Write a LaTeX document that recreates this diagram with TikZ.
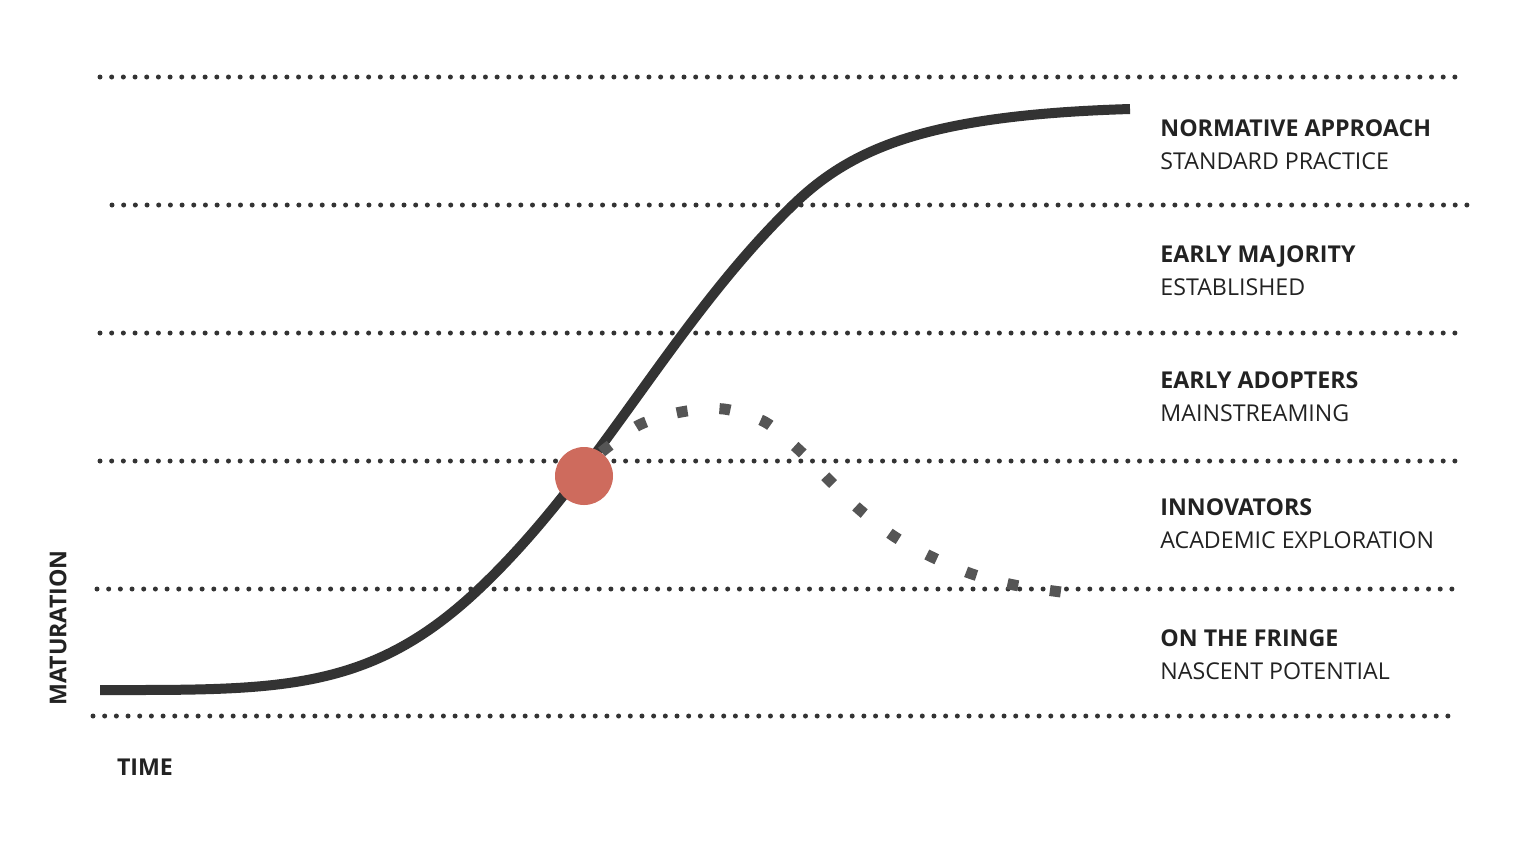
\documentclass[tikz,border=0pt]{standalone}
\usepackage{fontspec}
\setmainfont{Open Sans}
\definecolor{curvegray}{HTML}{333333}
\definecolor{markgray}{HTML}{555555}
\definecolor{dotred}{HTML}{CE6B5D}
\definecolor{textgray}{HTML}{222222}
\tikzset{
  levelline/.style={line width=2.5pt, line cap=round, dash pattern=on 0pt off 5.84pt, color=curvegray},
  bandtitle/.style={anchor=base west, inner sep=0pt, text=textgray, font=\fontsize{11.6}{14}\selectfont\bfseries},
  bandsub/.style={anchor=base west, inner sep=0pt, text=textgray, font=\fontsize{11.6}{14}\selectfont},
  axislabel/.style={inner sep=0pt, text=textgray, font=\fontsize{11.6}{14}\selectfont\bfseries},
}
\begin{document}
\begin{tikzpicture}[x=0.5pt, y=-0.5pt]
  \useasboundingbox (0,0) rectangle (1520,848);

  \draw[levelline] (100,77) -- (1457,77);
  \draw[levelline] (112,205) -- (1467,205);
  \draw[levelline] (100,333) -- (1457,333);
  \draw[levelline] (100,461) -- (1457,461);
  \draw[levelline] (97,589) -- (1454,589);
  \draw[levelline] (93,716) -- (1450,716);

  \draw[curvegray, line width=5pt] (100,690) .. controls (280,690) and (370,692.5) .. (480,588)
    .. controls (600,474) and (673,321.4) .. (793,205)
    .. controls (853,146.8) and (930,115) .. (1130,109);

  \draw[markgray, line width=5.5pt, dash pattern=on 5.5pt off 16pt] plot[smooth] coordinates {(601.5,452) (639,425) (681,412) (724,409) (765,422) (798,449) (829,480) (860,510) (895,537) (932,557) (972,574) (1014,585) (1061,592)};

  \node[circle, fill=dotred, minimum size=29pt, inner sep=0pt] (tipping) at (584,476) {};

  \node[bandtitle] (normative) at (1160,136) {NORMATIVE APPROACH};
  \node[bandsub] (standard) at (1160,169) {STANDARD PRACTICE};
  \node[bandtitle] (majority) at (1160,262) {EARLY MAJORITY};
  \node[bandsub] (established) at (1160,295) {ESTABLISHED};
  \node[bandtitle] (adopters) at (1160,388) {EARLY ADOPTERS};
  \node[bandsub] (mainstream) at (1160,421) {MAINSTREAMING};
  \node[bandtitle] (innovators) at (1160,515) {INNOVATORS};
  \node[bandsub] (academic) at (1160,548) {ACADEMIC EXPLORATION};
  \node[bandtitle] (fringe) at (1160,646) {ON THE FRINGE};
  \node[bandsub] (nascent) at (1160,679) {NASCENT POTENTIAL};

  \node[axislabel, rotate=90] (maturation) at (58,628) {MATURATION};
  \node[axislabel] (time) at (145,767) {TIME};
\end{tikzpicture}
\end{document}
